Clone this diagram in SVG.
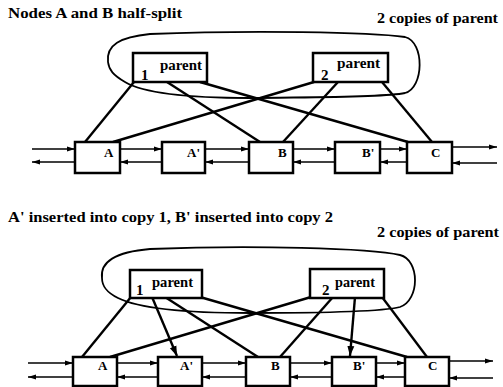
<svg xmlns="http://www.w3.org/2000/svg" width="503" height="387" viewBox="0 0 503 387">
  <style>
    text { font-family: 'Liberation Serif', 'Times New Roman', serif; fill: #000; }
    .title { font-size: 15px; font-weight: bold; }
    .plabel { font-size: 15px; font-weight: bold; }
    .num { font-size: 15px; font-weight: bold; }
    .nlabel { font-size: 13px; font-weight: bold; }
    .box { fill: #fff; stroke: #000; stroke-width: 2.5; }
    .blob { fill: none; stroke: #000; stroke-width: 1.8; }
    .edge { stroke: #000; stroke-width: 2.4; fill: none; }
    .link { stroke: #000; stroke-width: 1.5; fill: none; marker-end: url(#ah); }
    .ins { stroke: #000; stroke-width: 2.4; fill: none; marker-end: url(#big); }
  </style>
  <defs>
    <marker id="ah" viewBox="0 0 8 6" refX="8" refY="3" markerWidth="8" markerHeight="6" orient="auto" markerUnits="userSpaceOnUse">
      <path d="M0 0.5 L8 3 L0 5.5 z" fill="#000"/>
    </marker>
    <marker id="big" viewBox="0 0 10 8" refX="10" refY="4" markerWidth="10" markerHeight="8" orient="auto" markerUnits="userSpaceOnUse">
      <path d="M0 0.5 L10 4 L0 7.5 z" fill="#000"/>
    </marker>
  </defs>

  <!-- ===== Upper panel: half-split ===== -->
  <text class="title" x="8" y="18" textLength="174" lengthAdjust="spacingAndGlyphs">Nodes A and B half-split</text>
  <text class="title" x="377" y="23" textLength="121" lengthAdjust="spacingAndGlyphs">2 copies of parent</text>

  <path class="blob" d="M108 62 C106 45 120 37 150 34 C250 30 370 32 405 37 C425 42 424 88 405 93 C380 98 300 97 250 98 C190 98 145 94 125 82 C113 75 109 70 108 62 Z"/>

  <g id="edges-top">
    <line class="edge" x1="134" y1="82" x2="85" y2="142"/>
    <line class="edge" x1="167" y1="82" x2="260" y2="142"/>
    <line class="edge" x1="200" y1="82" x2="408" y2="142"/>
    <line class="edge" x1="314" y1="82" x2="113" y2="142"/>
    <line class="edge" x1="338" y1="82" x2="283" y2="142"/>
    <line class="edge" x1="382" y1="82" x2="432" y2="142"/>
    <line class="link" x1="32" y1="149" x2="75" y2="149"/>
    <line class="link" x1="75" y1="162" x2="32" y2="162"/>
    <line class="link" x1="120" y1="149" x2="162" y2="149"/>
    <line class="link" x1="162" y1="162" x2="120" y2="162"/>
    <line class="link" x1="205" y1="149" x2="249" y2="149"/>
    <line class="link" x1="249" y1="162" x2="205" y2="162"/>
    <line class="link" x1="293" y1="149" x2="335" y2="149"/>
    <line class="link" x1="335" y1="162" x2="293" y2="162"/>
    <line class="link" x1="380" y1="149" x2="407" y2="149"/>
    <line class="link" x1="407" y1="162" x2="380" y2="162"/>
    <line class="link" x1="452" y1="147" x2="497" y2="147"/>
    <line class="link" x1="497" y1="163" x2="452" y2="163"/>
  </g>

  <g id="top-parent1">
    <rect class="box" x="133" y="53" width="74" height="29"/>
    <text class="plabel" x="160" y="70" textLength="42" lengthAdjust="spacingAndGlyphs">parent</text>
    <text class="num" x="141" y="80">1</text>
  </g>
  <g id="top-parent2">
    <rect class="box" x="313" y="53" width="75" height="29"/>
    <text class="plabel" x="337" y="68" textLength="43" lengthAdjust="spacingAndGlyphs">parent</text>
    <text class="num" x="321" y="80">2</text>
  </g>
  <g id="top-A"><rect class="box" x="75" y="142" width="45" height="31"/><text class="nlabel" x="104" y="157">A</text></g>
  <g id="top-A1"><rect class="box" x="162" y="142" width="43" height="31"/><text class="nlabel" x="187" y="157">A'</text></g>
  <g id="top-B"><rect class="box" x="249" y="142" width="44" height="31"/><text class="nlabel" x="278" y="157">B</text></g>
  <g id="top-B1"><rect class="box" x="335" y="142" width="45" height="31"/><text class="nlabel" x="362" y="157">B'</text></g>
  <g id="top-C"><rect class="box" x="407" y="142" width="45" height="31"/><text class="nlabel" x="431" y="157">C</text></g>

  <!-- ===== Lower panel: after insertion ===== -->
  <text class="title" x="8" y="222" textLength="325" lengthAdjust="spacingAndGlyphs">A' inserted into copy 1, B' inserted into copy 2</text>
  <text class="title" x="377" y="237" textLength="122" lengthAdjust="spacingAndGlyphs">2 copies of parent</text>

  <path class="blob" d="M102 278 C100 262 115 252 150 249 C250 245 370 248 400 255 C420 260 420 300 400 307 C380 312 300 313 250 313 C190 313 140 309 118 298 C106 292 102 286 102 278 Z"/>

  <g id="edges-bottom">
    <line class="edge" x1="131" y1="297" x2="82" y2="357"/>
    <line class="edge" x1="165" y1="297" x2="258" y2="357"/>
    <line class="edge" x1="200" y1="297" x2="407" y2="357"/>
    <line class="edge" x1="311" y1="297" x2="110" y2="357"/>
    <line class="edge" x1="333" y1="297" x2="280" y2="357"/>
    <line class="edge" x1="382" y1="297" x2="427" y2="357"/>
    <line class="ins" x1="152" y1="297" x2="177" y2="356"/>
    <line class="ins" x1="355" y1="297" x2="350" y2="356"/>
    <line class="link" x1="28" y1="363" x2="73" y2="363"/>
    <line class="link" x1="73" y1="377" x2="28" y2="377"/>
    <line class="link" x1="117" y1="363" x2="158" y2="363"/>
    <line class="link" x1="158" y1="377" x2="117" y2="377"/>
    <line class="link" x1="202" y1="363" x2="246" y2="363"/>
    <line class="link" x1="246" y1="377" x2="202" y2="377"/>
    <line class="link" x1="290" y1="363" x2="332" y2="363"/>
    <line class="link" x1="332" y1="377" x2="290" y2="377"/>
    <line class="link" x1="376" y1="363" x2="405" y2="363"/>
    <line class="link" x1="405" y1="377" x2="376" y2="377"/>
    <line class="link" x1="449" y1="361" x2="493" y2="361"/>
    <line class="link" x1="493" y1="378" x2="449" y2="378"/>
  </g>

  <g id="bot-parent1">
    <rect class="box" x="130" y="270" width="72" height="28"/>
    <text class="plabel" x="152" y="287" textLength="41" lengthAdjust="spacingAndGlyphs">parent</text>
    <text class="num" x="136" y="295">1</text>
  </g>
  <g id="bot-parent2">
    <rect class="box" x="310" y="269" width="74" height="29"/>
    <text class="plabel" x="335" y="287" textLength="40" lengthAdjust="spacingAndGlyphs">parent</text>
    <text class="num" x="322" y="295">2</text>
  </g>
  <g id="bot-A"><rect class="box" x="73" y="357" width="44" height="29"/><text class="nlabel" x="98" y="370">A</text></g>
  <g id="bot-A1"><rect class="box" x="158" y="357" width="44" height="29"/><text class="nlabel" x="180" y="370">A'</text></g>
  <g id="bot-B"><rect class="box" x="246" y="357" width="44" height="29"/><text class="nlabel" x="271" y="370">B</text></g>
  <g id="bot-B1"><rect class="box" x="332" y="357" width="44" height="29"/><text class="nlabel" x="353" y="370">B'</text></g>
  <g id="bot-C"><rect class="box" x="405" y="357" width="44" height="29"/><text class="nlabel" x="428" y="370">C</text></g>
</svg>
